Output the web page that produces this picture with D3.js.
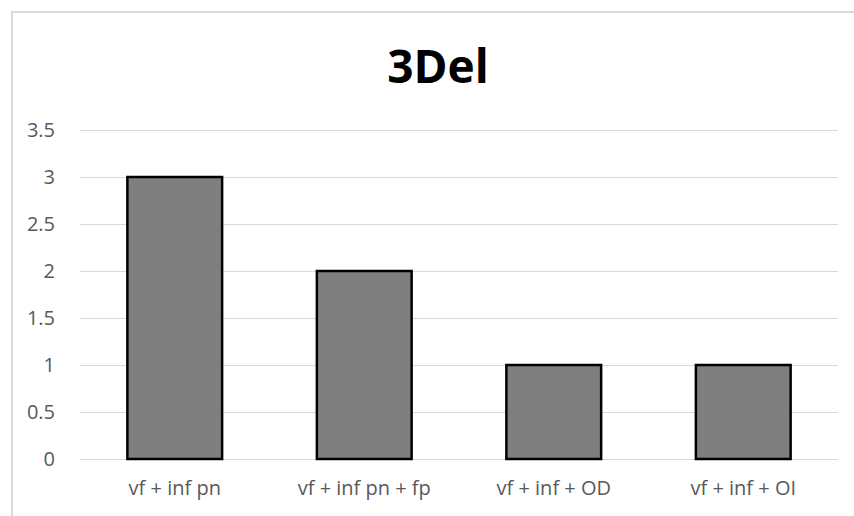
<!DOCTYPE html>
<head>
  <meta charset="utf-8">
  <style>
    body { margin: 0; background: #fff; }
    text { font-family: 'Open Sans', 'Liberation Sans', sans-serif; }
  </style>
</head>
<body>
  <script src="https://cdn.jsdelivr.net/npm/d3@7"></script>
  <script>
    // chart values
    const categories = ["vf + inf pn", "vf + inf pn + fp", "vf + inf + OD", "vf + inf + OI"];
    const values = [3, 2, 1, 1];
    const yTicks = [0, 0.5, 1, 1.5, 2, 2.5, 3, 3.5];
    const title = "3Del";

    const width = 854, height = 516;
    const margin = {top: 130, right: 16, bottom: 57, left: 80};
    const innerWidth = width - margin.left - margin.right;
    const innerHeight = height - margin.top - margin.bottom;

    const svg = d3.select("body").append("svg")
      .attr("width", width)
      .attr("height", height);

    // outer chart border (clipped by the window on right and bottom)
    svg.append("rect")
      .attr("x", 12).attr("y", 12)
      .attr("width", 900).attr("height", 600)
      .attr("fill", "none")
      .attr("stroke", "#d9d9d9")
      .attr("stroke-width", 2);

    svg.append("text")
      .attr("x", 438).attr("y", 83)
      .attr("text-anchor", "middle")
      .attr("font-size", 46)
      .attr("font-weight", "bold")
      .attr("fill", "#000")
      .text(title);

    const g = svg.append("g")
      .attr("transform", "translate(" + margin.left + "," + margin.top + ")");

    const x = d3.scaleBand().domain(categories).range([0, innerWidth]).paddingInner(0.5).paddingOuter(0.25);
    const y = d3.scaleLinear().domain([0, 3.5]).range([innerHeight, 0]);

    // gridlines
    g.append("g").selectAll("line").data(yTicks).enter().append("line")
      .attr("x1", 0).attr("x2", innerWidth)
      .attr("y1", d => y(d) + 0.5).attr("y2", d => y(d) + 0.5)
      .attr("stroke", "#d9d9d9")
      .attr("stroke-width", 1);

    // y tick labels
    const yaxis = d3.axisLeft(y).tickValues(yTicks).tickSize(0).tickPadding(25).tickFormat(d3.format("~g"));
    const ya = g.append("g").call(yaxis);
    ya.select(".domain").remove();
    ya.selectAll("text").attr("font-size", 20).attr("fill", "#595959")
      .style("font-family", "'Open Sans', sans-serif");

    // bars
    g.append("g").selectAll("rect").data(values).enter().append("rect")
      .attr("x", (d, i) => x(categories[i]))
      .attr("y", d => y(d))
      .attr("width", x.bandwidth())
      .attr("height", d => y(0) - y(d))
      .attr("fill", "#7f7f7f")
      .attr("stroke", "#000")
      .attr("stroke-width", 2.5);

    // x tick labels
    const xaxis = d3.axisBottom(x).tickSize(0).tickPadding(22);
    const xa = g.append("g").attr("transform", "translate(0," + innerHeight + ")").call(xaxis);
    xa.select(".domain").remove();
    xa.selectAll("text").attr("font-size", 20).attr("fill", "#595959")
      .style("font-family", "'Open Sans', sans-serif");
  </script>
</body>
